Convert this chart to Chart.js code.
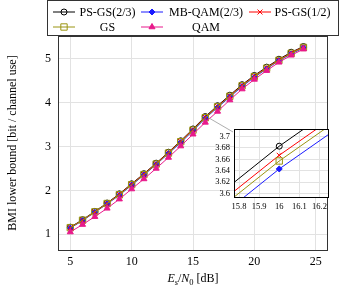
<!DOCTYPE html>
<html>
<head>
<meta charset="utf-8">
<script src="https://cdn.jsdelivr.net/npm/chart.js@4/dist/chart.umd.min.js"></script>
<style>
  body { margin: 0; background: #fff; }
  #wrap { position: relative; width: 340px; height: 293px; }
  #main { position: absolute; left: 0; top: 0; }
  #zoom { position: absolute; left: 200px; top: 120px; }
</style>
</head>
<body>
<div id="wrap">
  <canvas id="main" width="340" height="293"></canvas>
  <canvas id="zoom" width="134" height="100"></canvas>
</div>
<script>
Chart.defaults.font.family = "'Liberation Serif', 'DejaVu Serif', serif";
Chart.defaults.font.size = 12;
Chart.defaults.color = '#000';

// data
var snr = [5, 6, 7, 8, 9, 10, 11, 12, 13, 14, 15, 16, 17, 18, 19, 20, 21, 22, 23, 24];
var psGs23  = [1.16, 1.33, 1.52, 1.71, 1.92, 2.15, 2.38, 2.62, 2.87, 3.13, 3.40, 3.683, 3.93, 4.17, 4.41, 4.62, 4.81, 4.99, 5.15, 5.28];
var mbQam23 = [1.14, 1.31, 1.50, 1.69, 1.89, 2.12, 2.35, 2.59, 2.84, 3.09, 3.36, 3.643, 3.89, 4.13, 4.37, 4.58, 4.77, 4.96, 5.11, 5.25];
var psGs12  = [1.15, 1.32, 1.51, 1.70, 1.91, 2.14, 2.37, 2.61, 2.86, 3.12, 3.385, 3.667, 3.915, 4.155, 4.395, 4.605, 4.795, 4.975, 5.135, 5.27];
var gs      = [1.15, 1.32, 1.51, 1.70, 1.90, 2.13, 2.36, 2.60, 2.85, 3.11, 3.375, 3.657, 3.905, 4.145, 4.385, 4.595, 4.785, 4.965, 5.125, 5.26];
var qam     = [1.05, 1.22, 1.40, 1.59, 1.80, 2.03, 2.26, 2.50, 2.75, 3.01, 3.28, 3.55, 3.80, 4.06, 4.31, 4.53, 4.73, 4.92, 5.08, 5.22];
var seriesNames = ['PS-GS(2/3)', 'MB-QAM(2/3)', 'PS-GS(1/2)', 'GS', 'QAM'];

var xTicks = [5, 10, 15, 20, 25];
var yTicks = [1, 2, 3, 4, 5];
var zoomXTicks = [15.8, 15.9, 16, 16.1, 16.2];
var zoomYTicks = [3.6, 3.62, 3.64, 3.66, 3.68, 3.7];

var allValues = [psGs23, mbQam23, psGs12, gs, qam];
var styles = [
  { color: '#000000', point: 'circle',   fill: 'rgba(0,0,0,0)', r: 3 },
  { color: '#1a1aff', point: 'rectRot',  fill: '#1a1aff',       r: 3 },
  { color: '#ff0000', point: 'crossRot', fill: '#ff0000',       r: 3.5 },
  { color: '#9a9410', point: 'rect',     fill: 'rgba(0,0,0,0)', r: 4.5 },
  { color: '#e8198b', point: 'triangle', fill: '#e8198b',       r: 3.5 }
];

function makeDatasets(which) {
  return which.map(function (i) {
    var st = styles[i];
    return {
      label: seriesNames[i],
      data: snr.map(function (x, k) { return { x: x, y: allValues[i][k] }; }),
      borderColor: st.color,
      backgroundColor: st.fill,
      borderWidth: 1,
      pointStyle: st.point,
      pointRadius: st.r,
      pointBorderWidth: 1,
      pointBorderColor: st.color,
      pointBackgroundColor: st.fill,
      tension: 0,
      order: 10 - i
    };
  });
}

function fixedTicks(list) {
  return function (scale) {
    scale.ticks = list.map(function (v) { return { value: v }; });
  };
}
function plainLabel(v) { return String(+Number(v).toFixed(2)); }

var gridColor = '#e2e2e2';

// frame, titles, custom legend and the zoom pointer
var mainDecor = {
  id: 'mainDecor',
  afterDraw: function (chart) {
    var ctx = chart.ctx, a = chart.chartArea;
    ctx.save();
    ctx.strokeStyle = '#333';
    ctx.lineWidth = 1;
    ctx.strokeRect(Math.round(a.left) + 0.5, Math.round(a.top) + 0.5,
      Math.round(a.right - a.left) - 1, Math.round(a.bottom - a.top));

    // pointer to the inset
    var px = chart.scales.x.getPixelForValue(16);
    var py = chart.scales.y.getPixelForValue(psGs23[11]);
    ctx.strokeStyle = '#999';
    ctx.lineWidth = 0.8;
    ctx.beginPath();
    ctx.moveTo(px + 3, py + 1);
    ctx.lineTo(233, 132);
    ctx.stroke();

    // y title
    ctx.fillStyle = '#000';
    ctx.font = "12px 'Liberation Serif'";
    ctx.textAlign = 'center';
    ctx.textBaseline = 'middle';
    ctx.save();
    ctx.translate(13, (a.top + a.bottom) / 2);
    ctx.rotate(-Math.PI / 2);
    ctx.fillText('BMI lower bound [bit / channel use]', 0, 0);
    ctx.restore();

    // x title: E_s/N_0 [dB]
    var parts = [
      { t: 'E', f: "italic 12px 'Liberation Serif'", dy: 0 },
      { t: 's', f: "italic 8.5px 'Liberation Serif'", dy: 2.5 },
      { t: '/', f: "12px 'Liberation Serif'", dy: 0 },
      { t: 'N', f: "italic 12px 'Liberation Serif'", dy: 0 },
      { t: '0', f: "8.5px 'Liberation Serif'", dy: 2.5 },
      { t: ' [dB]', f: "12px 'Liberation Serif'", dy: 0 }
    ];
    var total = 0;
    parts.forEach(function (p) { ctx.font = p.f; p.w = ctx.measureText(p.t).width; total += p.w; });
    var x = (a.left + a.right) / 2 - total / 2;
    ctx.textAlign = 'left';
    ctx.textBaseline = 'alphabetic';
    parts.forEach(function (p) {
      ctx.font = p.f;
      ctx.fillText(p.t, x, 282 + p.dy);
      x += p.w;
    });

    // legend
    ctx.fillStyle = '#fff';
    ctx.fillRect(47, 0, 292, 36);
    ctx.strokeStyle = '#333';
    ctx.lineWidth = 1;
    ctx.strokeRect(47.5, 0.5, 291, 35);
    var slots = [
      { lx: 53,  tx: 107.5, y: 12 },
      { lx: 141, tx: 206,   y: 12 },
      { lx: 249, tx: 302.5, y: 12 },
      { lx: 53,  tx: 107.5, y: 27 },
      { lx: 141, tx: 206,   y: 27 }
    ];
    slots.forEach(function (s, i) {
      var st = styles[i];
      ctx.strokeStyle = st.color;
      ctx.lineWidth = 1;
      ctx.beginPath();
      ctx.moveTo(s.lx, s.y);
      ctx.lineTo(s.lx + 22, s.y);
      ctx.stroke();
      ctx.fillStyle = st.fill;
      Chart.helpers.drawPoint(ctx, { pointStyle: st.point, radius: st.r, rotation: 0, borderWidth: 1 }, s.lx + 11, s.y);
      ctx.fillStyle = '#000';
      ctx.font = "12px 'Liberation Serif'";
      ctx.textAlign = 'center';
      ctx.textBaseline = 'middle';
      ctx.fillText(seriesNames[i], s.tx, s.y + 1);
    });
    ctx.restore();
  }
};

new Chart(document.getElementById('main'), {
  type: 'line',
  data: { datasets: makeDatasets([0, 1, 2, 3, 4]) },
  options: {
    responsive: false,
    devicePixelRatio: 1,
    animation: false,
    layout: { padding: { top: 36, right: 12, left: 0, bottom: 0 } },
    plugins: { legend: { display: false }, tooltip: { enabled: false } },
    scales: {
      x: {
        type: 'linear', min: 4, max: 26,
        afterBuildTicks: fixedTicks(xTicks),
        afterFit: function (s) { s.height = 43; },
        grid: { color: gridColor, drawTicks: false },
        border: { display: false },
        ticks: { padding: 5, autoSkip: false, maxRotation: 0, callback: plainLabel }
      },
      y: {
        min: 0.64, max: 5.52,
        afterBuildTicks: fixedTicks(yTicks),
        afterFit: function (s) { s.width = 58; },
        grid: { color: gridColor, drawTicks: false },
        border: { display: false },
        ticks: { padding: 7, autoSkip: false, callback: plainLabel }
      }
    }
  },
  plugins: [mainDecor]
});

var zoomDecor = {
  id: 'zoomDecor',
  beforeDraw: function (chart) {
    var a = chart.chartArea, ctx = chart.ctx;
    ctx.save();
    ctx.fillStyle = '#fff';
    ctx.fillRect(a.left, a.top, a.right - a.left, a.bottom - a.top);
    ctx.restore();
  },
  afterDraw: function (chart) {
    var a = chart.chartArea, ctx = chart.ctx;
    ctx.save();
    ctx.strokeStyle = '#000';
    ctx.lineWidth = 1;
    ctx.strokeRect(Math.round(a.left) + 0.5, Math.round(a.top) + 0.5,
      Math.round(a.right - a.left) - 1, Math.round(a.bottom - a.top) - 1);
    ctx.restore();
  }
};

new Chart(document.getElementById('zoom'), {
  type: 'line',
  data: { datasets: makeDatasets([0, 1, 2, 3]) },
  options: {
    responsive: false,
    devicePixelRatio: 1,
    animation: false,
    layout: { padding: { top: 5, right: 5, left: 0, bottom: 0 } },
    plugins: { legend: { display: false }, tooltip: { enabled: false } },
    scales: {
      x: {
        type: 'linear', min: 15.775, max: 16.245,
        afterBuildTicks: fixedTicks(zoomXTicks),
        afterFit: function (s) { s.height = 22; },
        grid: { color: gridColor, drawTicks: false },
        border: { display: false },
        ticks: { padding: 4, font: { size: 8.5 }, autoSkip: false, maxRotation: 0, minRotation: 0, callback: plainLabel }
      },
      y: {
        min: 3.592, max: 3.713,
        afterBuildTicks: fixedTicks(zoomYTicks),
        afterFit: function (s) { s.width = 34; },
        grid: { color: gridColor, drawTicks: false },
        border: { display: false },
        ticks: { padding: 4, font: { size: 8.5 }, autoSkip: false, callback: plainLabel }
      }
    }
  },
  plugins: [zoomDecor]
});
</script>
</body>
</html>
